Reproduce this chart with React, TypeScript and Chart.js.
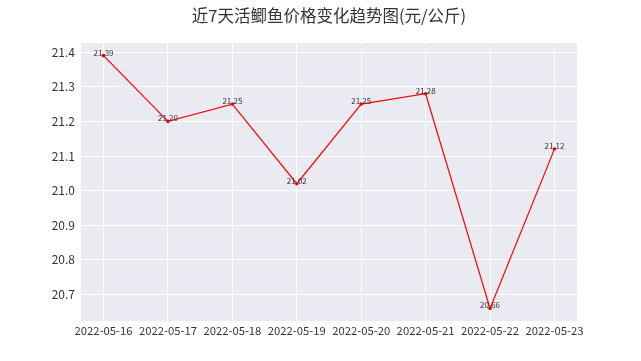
import React, { useEffect, useRef } from "react";
import { Chart, registerables } from "chart.js";

Chart.register(...registerables);

const titleText = "近7天活鲫鱼价格变化趋势图(元/公斤)";
const dates = ["2022-05-16", "2022-05-17", "2022-05-18", "2022-05-19", "2022-05-20", "2022-05-21", "2022-05-22", "2022-05-23"];
const prices = [21.39, 21.2, 21.25, 21.02, 21.25, 21.28, 20.66, 21.12];
const yTicks = [20.7, 20.8, 20.9, 21.0, 21.1, 21.2, 21.3, 21.4];

const FONT = "'Noto Sans CJK SC', 'DejaVu Sans', sans-serif";

export default function App() {
  const ref = useRef<HTMLCanvasElement | null>(null);
  useEffect(() => {
    document.body.style.margin = "0";
    const ctx = ref.current!;
    const minV = Math.min(...prices);
    const maxV = Math.max(...prices);
    const span = maxV - minV;
    const n = dates.length;
    const bgPlugin = {
      id: "bg",
      beforeDraw(chart: any) {
        const { ctx, chartArea } = chart;
        ctx.save();
        ctx.fillStyle = "#EAEAF2";
        ctx.fillRect(chartArea.left, chartArea.top, chartArea.right - chartArea.left, chartArea.bottom - chartArea.top);
        ctx.restore();
      },
      afterDraw(chart: any) {
        const { ctx, chartArea } = chart;
        ctx.save();
        ctx.fillStyle = "#333333";
        ctx.font = `16.5px ${FONT}`;
        ctx.textAlign = "center";
        ctx.textBaseline = "middle";
        ctx.fillText(titleText, (chartArea.left + chartArea.right) / 2, 16);
        ctx.restore();
      },
      afterDatasetsDraw(chart: any) {
        const { ctx } = chart;
        const meta = chart.getDatasetMeta(0);
        ctx.save();
        ctx.fillStyle = "#333333";
        ctx.font = `8px ${FONT}`;
        ctx.textAlign = "center";
        ctx.textBaseline = "bottom";
        meta.data.forEach((pt: any, i: number) => {
          ctx.fillText(prices[i].toFixed(2), pt.x, pt.y + 1);
        });
        ctx.restore();
      },
    };
    const chart = new Chart(ctx, {
      type: "line",
      data: {
        datasets: [
          {
            data: prices.map((v, i) => ({ x: i, y: v })),
            borderColor: "#FF0000",
            backgroundColor: "#FF0000",
            borderWidth: 1.2,
            pointRadius: 1.8,
            pointBorderWidth: 0,
            tension: 0,
          },
        ],
      },
      options: {
        animation: false,
        responsive: false,
        layout: { padding: { left: 0, right: 64, top: 43, bottom: 0 } },
        plugins: { legend: { display: false }, tooltip: { enabled: false } },
        scales: {
          x: {
            type: "linear",
            min: -0.35,
            max: n - 1 + 0.35,
            afterFit: (s: any) => { s.height = 40; },
            afterBuildTicks: (s: any) => { s.ticks = dates.map((_, i) => ({ value: i })); },
            ticks: {
              autoSkip: false,
              maxRotation: 0,
              padding: 3,
              color: "#333333",
              font: { family: FONT, size: 11.3 },
              callback: (v: any) => dates[v as number] ?? "",
            },
            grid: { color: "#FFFFFF", lineWidth: 1, drawTicks: false },
            border: { display: false },
          },
          y: {
            type: "linear",
            min: minV - span * 0.05,
            max: maxV + span * 0.05,
            afterFit: (s: any) => { s.width = 81; },
            afterBuildTicks: (s: any) => { s.ticks = yTicks.map((v) => ({ value: v })); },
            ticks: {
              padding: 6,
              color: "#333333",
              font: { family: FONT, size: 12 },
              callback: (v: any) => Number(v).toFixed(1),
            },
            grid: { color: "#FFFFFF", lineWidth: 1, drawTicks: false },
            border: { display: false },
          },
        },
      },
      plugins: [bgPlugin],
    });
    return () => chart.destroy();
  }, []);
  return (
    <div style={{ position: "fixed", left: 0, top: 0, width: 641, height: 361 }}>
      <canvas ref={ref} width={641} height={361} />
    </div>
  );
}
